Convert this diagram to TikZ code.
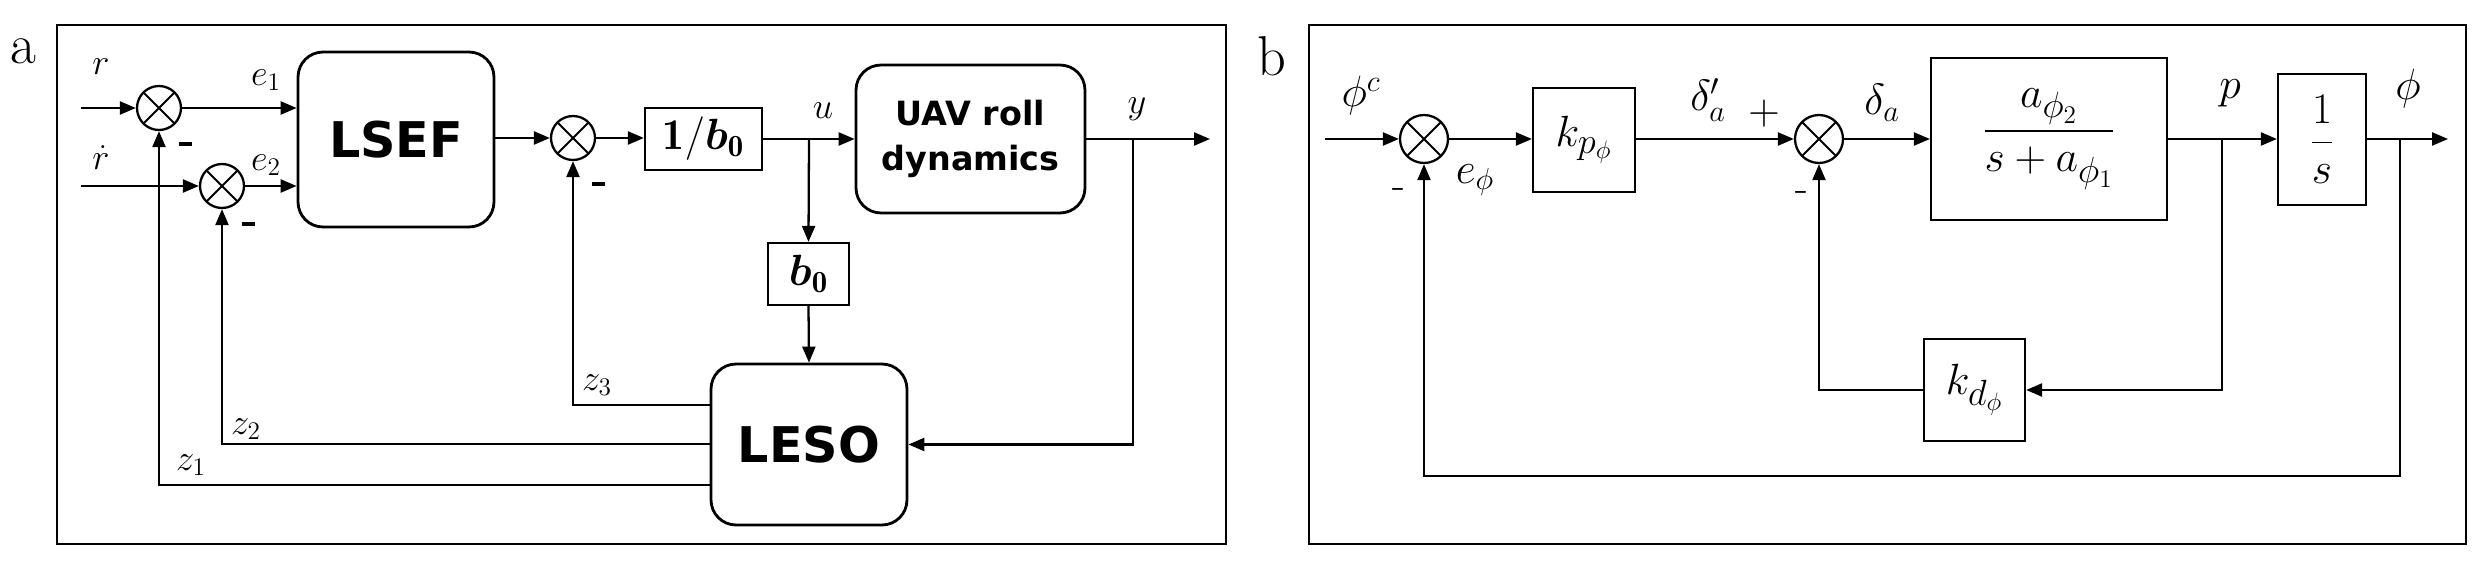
\documentclass[tikz,border=0pt]{standalone}
\usepackage{amsmath}
\usepackage{bm}
\usepackage{fontspec}
\newfontfamily\dejab{DejaVu Sans}
\usetikzlibrary{arrows.meta}
\begin{document}
\begin{tikzpicture}[x=0.02cm,y=-0.02cm,
  ln/.style={line width=1.3pt},
  ar/.style={ln,-{Triangle[length=0.32cm,width=0.26cm]}},
  sum/.style={circle,draw,line width=1.3pt,minimum size=#1,inner sep=0pt,
    path picture={\draw[line width=1.1pt] (path picture bounding box.north west)--(path picture bounding box.south east)
      (path picture bounding box.north east)--(path picture bounding box.south west);}},
  sum/.default=0.88cm,
  rbox/.style={draw,line width=1.6pt,rounded corners=0.5cm,font=\dejab\bfseries},
  box/.style={draw,line width=1.3pt,inner sep=0pt},
  lab/.style={font=\fontsize{21}{24}\selectfont},
  bfont/.style={font=\fontsize{30}{34}\selectfont},
  mn/.style={inner sep=0pt},
  panel/.style={font=\fontsize{32}{36}\selectfont}
]
\useasboundingbox (0,0) rectangle (2475,564);
% ---------- panel a
\draw[line width=1.2pt] (57,25) rectangle (1226,544);
\node[panel] (la) at (23,51) {a};
\node[sum] (s1) at (159,108) {};
\node[sum] (s2) at (222,186) {};
\node[sum] (s3) at (573,138) {};
\node[rbox,minimum width=3.92cm,minimum height=3.5cm,font=\dejab\bfseries\fontsize{28}{30}\selectfont] (lsef) at (396,139.5) {LSEF};
\node[box,minimum width=2.34cm,minimum height=1.24cm,font=\fontsize{25}{28}\selectfont] (binv) at (703.5,139) {$\mathbf{1}/\bm{b}_{\mathbf 0}$};
\node[rbox,minimum width=4.58cm,minimum height=2.96cm,align=center,font=\dejab\bfseries\fontsize{19}{26}\selectfont] (uav) at (970.5,139) {UAV roll\\dynamics};
\node[box,minimum width=1.62cm,minimum height=1.24cm,font=\fontsize{25}{28}\selectfont] (b0) at (808.5,274) {$\bm{b}_{\mathbf 0}$};
\node[rbox,minimum width=3.92cm,minimum height=3.22cm,font=\dejab\bfseries\fontsize{28}{30}\selectfont] (leso) at (809,444.5) {LESO};
\coordinate (ra) at (81,108);
\coordinate (rd) at (81,186);
\coordinate (bu) at (809,139);
\coordinate (by) at (1133,139);
\coordinate (ya) at (1210,139);
\coordinate (z3) at (711,405);
\coordinate (z2) at (711,444);
\coordinate (z1) at (711,485);
\draw[ar] (ra) -- (s1);
\draw[ar] (rd) -- (s2);
\draw[ar] (s1) -- (s1 -| lsef.west);
\draw[ar] (s2) -- (s2 -| lsef.west);
\draw[ar] (lsef.east |- s3) -- (s3);
\draw[ar] (s3) -- (s3 -| binv.west);
\draw[ar] (binv.east) -- (uav.west);
\draw[ar] (bu) -- (b0.north);
\draw[ar] (b0.south) -- (leso.north);
\draw[ar] (uav.east) -- (ya);
\draw[ar] (by) |- (leso.east);
\draw[ar] (z3) -| (s3.south);
\draw[ar] (z2) -| (s2.south);
\draw[ar] (z1) -| (s1.south);
\node[lab] (lr) at (101,67) {$r$};
\node[lab] (lrd) at (101,158) {$\dot r$};
\node[lab] (le1) at (266,80) {$e_1$};
\node[lab] (le2) at (266,165) {$e_2$};
\node[lab] (lu) at (823,111) {$u$};
\node[lab] (ly) at (1137,109) {$y$};
\node[lab] (lz3) at (597,385) {$z_3$};
\node[lab] (lz2) at (246,429) {$z_2$};
\node[lab] (lz1) at (191,465) {$z_1$};
\node[mn] (m1) at (185,144) {\rule{0.26cm}{0.08cm}};
\node[mn] (m2) at (248,224) {\rule{0.26cm}{0.08cm}};
\node[mn] (m3) at (598,184) {\rule{0.26cm}{0.08cm}};
% ---------- panel b
\draw[line width=1.2pt] (1309,25) rectangle (2466,544);
\node[panel] (lb) at (1272,56) {b};
\node[sum=0.96cm] (s4) at (1424,139) {};
\node[sum=0.96cm] (s5) at (1819,139) {};
\node[box,bfont,minimum width=2.04cm,minimum height=2.08cm] (kp) at (1584,140) {$k_{p_\phi}$};
\node[box,bfont,minimum width=4.72cm,minimum height=3.24cm] (g) at (2049,139) {$\displaystyle\frac{a_{\phi_2}}{s+a_{\phi_1}}$};
\node[box,bfont,minimum width=1.76cm,minimum height=2.62cm] (int) at (2322,139.5) {$\displaystyle\frac{1}{s}$};
\node[box,bfont,minimum width=2.02cm,minimum height=2.04cm] (kd) at (1974.5,390) {$k_{d_\phi}$};
\coordinate (pin) at (1325,139);
\coordinate (bp) at (2222,139);
\coordinate (bphi) at (2400,139);
\coordinate (phio) at (2448,139);
\coordinate (fb) at (1424,476);
\draw[ar] (pin) -- (s4);
\draw[ar] (s4) -- (s4 -| kp.west);
\draw[ar] (kp.east |- s5) -- (s5);
\draw[ar] (s5) -- (s5 -| g.west);
\draw[ar] (g.east |- s5) -- (s5 -| int.west);
\draw[ar] (int.east |- s5) -- (phio);
\draw[ar] (bp) |- (kd.east);
\draw[ar] (kd.west) -| (s5.south);
\draw[ar] (bphi) |- (fb) -- (s4.south);
\node[lab,font=\fontsize{24}{26}\selectfont] (lpc) at (1361,96) {$\phi^c$};
\node[lab,font=\fontsize{24}{26}\selectfont] (lephi) at (1475,180) {$e_\phi$};
\node[lab,font=\fontsize{24}{26}\selectfont] (lm4) at (1399,194) {-};
\node[lab,font=\fontsize{24}{26}\selectfont] (lda1) at (1708,100) {$\delta_a'$};
\node[lab,font=\fontsize{24}{26}\selectfont] (lplus) at (1764,114) {$+$};
\node[lab,font=\fontsize{24}{26}\selectfont] (lm5) at (1802,197) {-};
\node[lab,font=\fontsize{24}{26}\selectfont] (lda) at (1882,103) {$\delta_a$};
\node[lab,font=\fontsize{24}{26}\selectfont] (lp) at (2230,93) {$p$};
\node[lab,font=\fontsize{24}{26}\selectfont] (lphi) at (2408,89) {$\phi$};
\end{tikzpicture}
\end{document}
